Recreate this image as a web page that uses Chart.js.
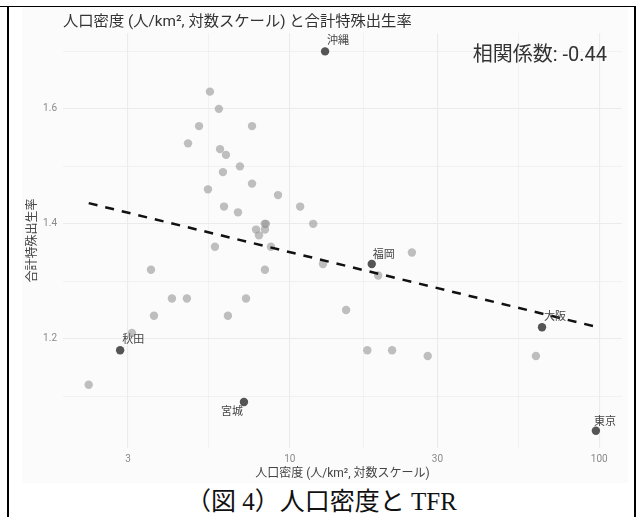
<!DOCTYPE html>
<html>
<head>
<meta charset="utf-8">
<script src="https://cdn.jsdelivr.net/npm/chart.js@4.4.1/dist/chart.umd.min.js"></script>
<style>
  html, body { margin: 0; padding: 0; background: #fff; }
  body { width: 639px; height: 517px; position: relative; overflow: hidden; }
  #topline { position: absolute; left: 0; top: 6px; width: 636px; height: 1px; background: #000; }
  #frame { position: absolute; left: 7px; top: 6px; width: 625px; height: 520px;
           border-left: 2px solid #000; border-right: 2px solid #000; }
  #wrap { position: absolute; left: 22px; top: 7px; width: 606px; height: 476px; background: #fbfbfb; }
  #caption { position: absolute; left: 9px; width: 625px; top: 487px; text-align: center;
             font-family: "Liberation Serif", "Noto Sans CJK JP", serif; font-size: 25px;
             line-height: 30px; color: #111; }
</style>
</head>
<body>
<div id="topline"></div>
<div id="frame"></div>
<div id="wrap"><canvas id="chart"></canvas></div>
<div id="caption">（図 4）人口密度と TFR</div>

<script>
// 人口密度 (対数スケール) と合計特殊出生率 — その他の都道府県
const otherDensity = [5.52, 5.90, 5.09, 7.55, 4.69, 5.95, 6.22, 6.90, 6.08, 7.55,
                      5.44, 9.16, 6.13, 10.8, 6.80, 8.37, 11.9, 7.78, 8.31, 7.95,
                      8.30, 5.73, 8.69, 24.8, 12.8, 3.56, 8.31, 19.3, 4.16, 4.65,
                      7.22, 15.2, 3.64, 6.31, 3.09, 17.8, 21.4, 27.9, 62.4, 2.24];
const otherTfr     = [1.63, 1.60, 1.57, 1.57, 1.54, 1.53, 1.52, 1.50, 1.49, 1.47,
                      1.46, 1.45, 1.43, 1.43, 1.42, 1.40, 1.40, 1.39, 1.39, 1.38,
                      1.40, 1.36, 1.36, 1.35, 1.33, 1.32, 1.32, 1.31, 1.27, 1.27,
                      1.27, 1.25, 1.24, 1.24, 1.21, 1.18, 1.18, 1.17, 1.17, 1.12];

// ラベル付きの都道府県
const prefNames   = ['沖縄', '秋田', '宮城', '福岡', '大阪', '東京'];
const prefDensity = [13.0, 2.83, 7.11, 18.4, 65.3, 97.5];
const prefTfr     = [1.70, 1.18, 1.09, 1.33, 1.22, 1.04];

// 回帰直線の両端
const trendDensity = [2.24, 97.5];
const trendTfr     = [1.436, 1.221];

const xMajor = [3, 10, 30, 100];
const xMinor = [5.48, 17.3, 54.8];
const yMajor = [1.2, 1.4, 1.6];
const yMinor = [1.1, 1.3, 1.5, 1.7];

const corrText = '相関係数: -0.44';
const titleText = '人口密度 (人/km², 対数スケール) と合計特殊出生率';

const FONT = 'Roboto, "Noto Sans CJK JP", sans-serif';

const labelStyle = {
  '沖縄': { dx: 2, dy: -10, align: 'left' },
  '秋田': { dx: 2, dy: -10, align: 'left' },
  '宮城': { dx: -1, dy: 10, align: 'right' },
  '福岡': { dx: 1, dy: -9, align: 'left' },
  '大阪': { dx: 2, dy: -10, align: 'left' },
  '東京': { dx: -2, dy: -9, align: 'left' }
};

const toPts = (xs, ys) => xs.map((v, i) => ({ x: v, y: ys[i] }));
const sortTicks = arr => arr.slice().sort((a, b) => a - b).map(v => ({ value: v }));
const isMajor = (list, v) => list.some(m => Math.abs(m - v) < 1e-6);

const overlay = {
  id: 'overlay',
  afterDatasetsDraw(chart) {
    const { ctx, chartArea: a, scales: { x, y } } = chart;
    ctx.save();
    ctx.font = '11px ' + FONT;
    ctx.fillStyle = '#444';
    ctx.textBaseline = 'middle';
    prefNames.forEach((n, i) => {
      const s = labelStyle[n];
      ctx.textAlign = s.align;
      ctx.fillText(n, x.getPixelForValue(prefDensity[i]) + s.dx, y.getPixelForValue(prefTfr[i]) + s.dy);
    });

    ctx.font = '20px ' + FONT;
    ctx.fillStyle = '#333';
    ctx.textAlign = 'right';
    ctx.fillText(corrText, a.right - 15, a.top + 23);

    ctx.font = '15.3px ' + FONT;
    ctx.textAlign = 'left';
    ctx.fillText(titleText, a.left, 15);
    ctx.restore();
  }
};

new Chart(document.getElementById('chart'), {
  type: 'scatter',
  data: {
    datasets: [
      {
        label: '東京など',
        data: toPts(prefDensity, prefTfr),
        backgroundColor: '#555',
        borderWidth: 0,
        pointRadius: 4.2,
        order: 1
      },
      {
        label: '回帰直線',
        data: toPts(trendDensity, trendTfr),
        showLine: true,
        borderColor: '#111',
        borderWidth: 2.5,
        borderDash: [9, 8],
        pointRadius: 0,
        fill: false,
        order: 2
      },
      {
        label: 'その他',
        data: toPts(otherDensity, otherTfr),
        backgroundColor: 'rgba(150,150,150,0.6)',
        borderWidth: 0,
        pointRadius: 4.2,
        order: 3
      }
    ]
  },
  options: {
    responsive: true,
    maintainAspectRatio: false,
    animation: false,
    events: [],
    layout: { padding: { top: 26, right: 6, left: 0, bottom: 0 } },
    plugins: { legend: { display: false }, tooltip: { enabled: false } },
    scales: {
      x: {
        type: 'logarithmic',
        min: 1.85,
        max: 118.4,
        afterBuildTicks: s => { s.ticks = sortTicks(xMajor.concat(xMinor)); },
        afterFit: s => { s.height = 35; },
        border: { display: false },
        grid: {
          color: '#ebebeb',
          drawTicks: false,
          lineWidth: c => (c.tick && isMajor(xMajor, c.tick.value)) ? 1.1 : 0.6
        },
        ticks: {
          autoSkip: false,
          maxRotation: 0,
          padding: 5,
          color: '#8a8a8a',
          font: { family: FONT, size: 10 },
          callback: v => isMajor(xMajor, v) ? String(v) : ''
        },
        title: {
          display: true,
          text: '人口密度 (人/km², 対数スケール)',
          color: '#444',
          font: { family: FONT, size: 12 },
          padding: { top: 0, bottom: 2 }
        }
      },
      y: {
        min: 1.01,
        max: 1.732,
        afterBuildTicks: s => { s.ticks = sortTicks(yMajor.concat(yMinor)); },
        afterFit: s => { s.width = 41; },
        border: { display: false },
        grid: {
          color: '#ebebeb',
          drawTicks: false,
          lineWidth: c => (c.tick && isMajor(yMajor, c.tick.value)) ? 1.1 : 0.6
        },
        ticks: {
          autoSkip: false,
          padding: 6,
          color: '#8a8a8a',
          font: { family: FONT, size: 10 },
          callback: v => isMajor(yMajor, v) ? v.toFixed(1) : ''
        },
        title: {
          display: true,
          text: '合計特殊出生率',
          color: '#444',
          font: { family: FONT, size: 12 },
          padding: { top: 4, bottom: 0 }
        }
      }
    }
  },
  plugins: [overlay]
});
</script>
</body>
</html>
